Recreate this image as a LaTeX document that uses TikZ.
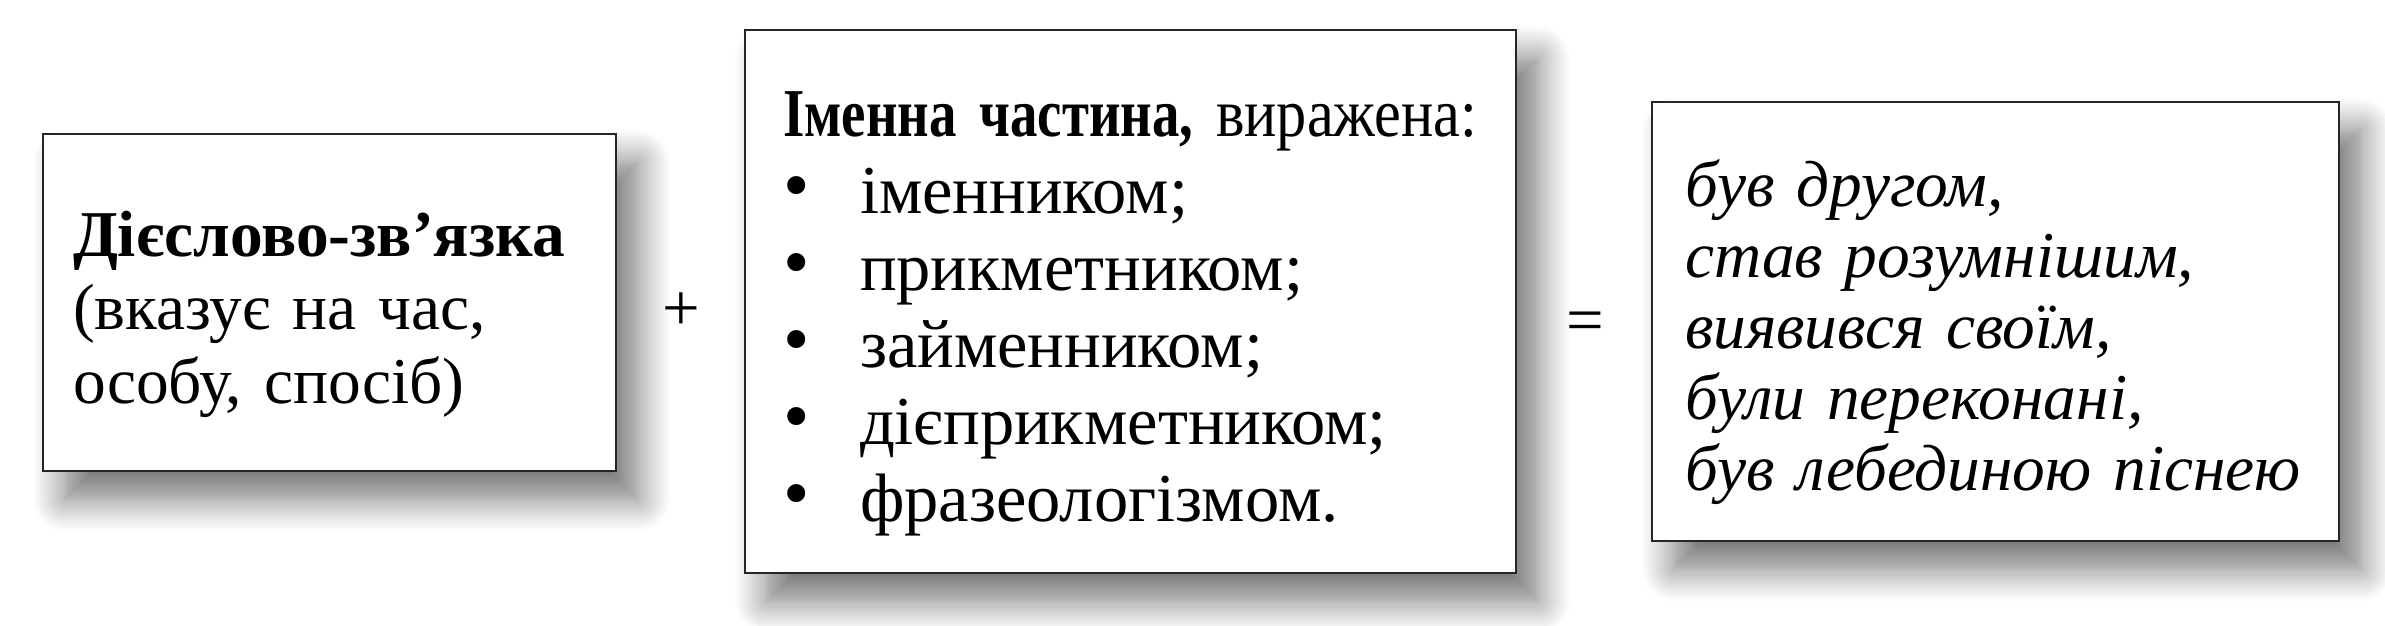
\documentclass[tikz,border=0pt]{standalone}
\usepackage{fontspec}
\setmainfont{Liberation Serif}
\newfontfamily\vuzkyi[FakeStretch=0.80]{Liberation Serif}
\newfontfamily\pivuzkyi[FakeStretch=0.88]{Liberation Serif}
\usepackage{tikz}
\usetikzlibrary{positioning, shadows.blur}

\tikzset{
    wordbox/.style={draw=black!85, line width=0.8pt, fill=white, inner sep=0pt, align=left,
        execute at begin node={\rule{0pt}{0.69cm}},
        blur shadow={shadow xshift=0.22cm, shadow yshift=-0.28cm, shadow blur radius=0.32cm, shadow blur steps=12, shadow opacity=55}},
    sign/.style={inner sep=0pt, font=\fontsize{19}{20}\selectfont}
}
\newcommand{\punkt}[1]{\makebox[0.77cm][l]{\raisebox{0.04em}{\scalebox{1.1}{•}}}#1}

\begin{document}
\begin{tikzpicture}
        \useasboundingbox (0,0) rectangle (23.85,6.25);
        \node[wordbox, minimum width=5.73cm, minimum height=3.37cm, text width=5.13cm,
              font=\fontsize{18.6}{20.8}\selectfont] (zvyazka) at (3.295,3.225)
              {\textbf{Дієслово-зв’язка}\\(вказує на час,\\особу, спосіб)};
        \node[wordbox, minimum width=7.71cm, minimum height=5.43cm, text width=6.95cm,
              font=\fontsize{19.5}{21.9}\selectfont] (imenna) at (11.305,3.235)
              {\mbox{{\vuzkyi\bfseries Іменна частина,} {\pivuzkyi виражена:}}\\
               \punkt{іменником;}\\
               \punkt{прикметником;}\\
               \punkt{займенником;}\\
               \punkt{дієприкметником;}\\
               \punkt{фразеологізмом.}};
        \node[wordbox, minimum width=6.87cm, minimum height=4.39cm, text width=6.21cm,
              font=\fontsize{18.6}{20.2}\selectfont\itshape] (pryklady) at (19.955,3.035)
              {був другом,\\став розумнішим,\\виявився своїм,\\були переконані,\\був лебединою піснею};
        \node[sign] (plus) at (6.81,3.13) {+};
        \node[sign] (dorivn) at (15.85,2.98) {=};
    \end{tikzpicture}
\end{document}
